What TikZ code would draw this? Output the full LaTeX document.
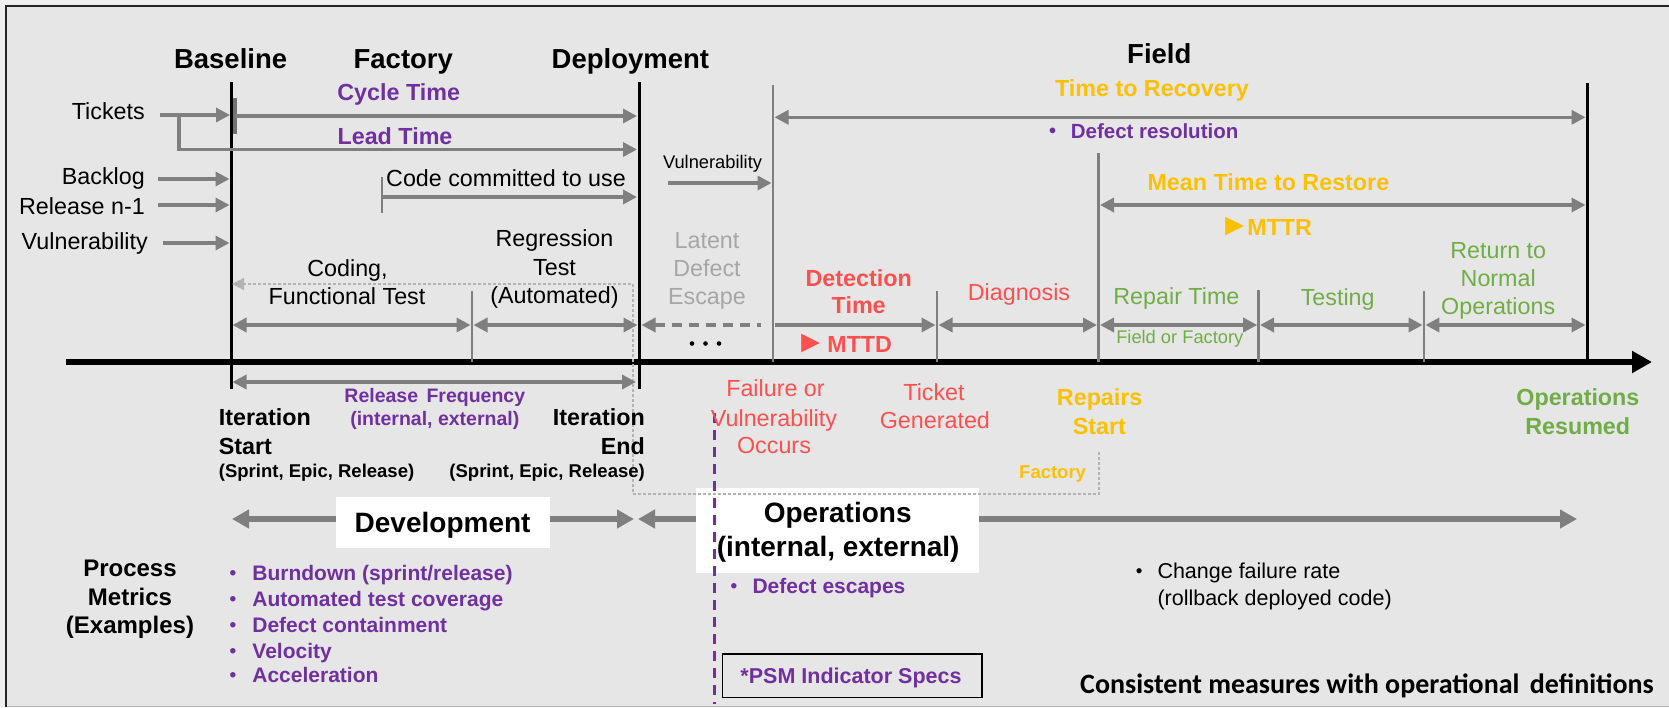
\documentclass[tikz,border=0pt]{standalone}
\usepackage{fontspec}
\usepackage{graphicx}
\setmainfont{Liberation Sans}
\newfontfamily\carl{Carlito}
\usetikzlibrary{arrows.meta}
\definecolor{outbg}{HTML}{EEEEEE}
\definecolor{bg}{HTML}{E6E6E6}
\definecolor{agray}{HTML}{7F7F7F}
\definecolor{ltgray}{HTML}{A6A6A6}
\definecolor{pur}{HTML}{7030A0}
\definecolor{red}{HTML}{FF5050}
\definecolor{yel}{HTML}{FFC000}
\definecolor{grn}{HTML}{70AD47}
\newcommand{\fsz}[1]{\fontsize{#1}{#1}\selectfont}
\newcommand{\ptr}{\scalebox{1.35}{►}}
\begin{document}
\begin{tikzpicture}[x=1pt,y=-1pt,
  txt/.style={inner sep=0pt, anchor=base},
  hdr/.style={txt, font=\bfseries\fsz{27.5}},
  big/.style={txt, font=\bfseries\fsz{28}},
  lab/.style={txt, font=\fsz{23.3}},
  labb/.style={txt, font=\bfseries\fsz{23.3}},
  sml/.style={txt, font=\fsz{18.3}},
  smlb/.style={txt, font=\bfseries\fsz{18.5}},
  bul/.style={txt, font=\bfseries\fsz{21}, text=pur},
  ga/.style={draw=agray, line width=3.4pt, -{Triangle[length=14pt,width=14pt]}},
  gd/.style={draw=agray, line width=3.4pt, {Triangle[length=14pt,width=14pt]}-{Triangle[length=14pt,width=14pt]}},
  gv/.style={draw=agray, line width=2.8pt},
  bv/.style={draw=black, line width=3pt},
  bar/.style={draw=agray, line width=5.5pt, {Triangle[length=17pt,width=18pt]}-{Triangle[length=17pt,width=18pt]}},
  wbox/.style={fill=white, draw=none}
]
\useasboundingbox (0,0) rectangle (1669,707);
% background and frame
\fill[outbg] (0,0) rectangle (1669,707);
\fill[bg] (6,6) rectangle (1669,706);
\draw[gray!60, line width=1pt] (6,706) -- (1669,706);
\draw[black!85, line width=2pt] (6,707) -- (6,6) -- (1669,6);

% bars and white boxes
\draw[bar] (232,519) -- (634,519);
\draw[bar] (638,519) -- (1577,519);
\fill[wbox] (335.7,496.7) rectangle (550,548.3);
\fill[wbox] (696.4,487.7) rectangle (979,573.3);

% main timeline
\draw[line width=5.5pt, -{Triangle[length=20pt,width=21pt]}] (66,362) -- (1652,362);

% black verticals
\draw[bv] (231,82) -- (231,389);
\draw[bv] (639.5,82) -- (639.5,389);
\draw[bv] (1587,83) -- (1587,362);

% gray verticals and ticks
\draw[gv] (773,85) -- (773,362);
\draw[gv] (1098.5,153) -- (1098.5,362);
\draw[gv] (472,291) -- (472,362);
\draw[gv] (937,291) -- (937,362);
\draw[gv] (1258.6,290) -- (1258.6,362);
\draw[gv] (1424,291) -- (1424,362);
\draw[gv] (382,177) -- (382,213);
\draw[draw=agray!90!black, line width=3.4pt] (235,98) -- (235,134);

% dotted light gray loop
\draw[draw=ltgray!85, line width=1.3pt, dash pattern=on 3pt off 2pt, -{Triangle[length=12pt,width=12pt]}]
  (1099,452) -- (1099,494) -- (633,494) -- (633,284) -- (232,284);

% left input arrows
\draw[ga] (160,115) -- (230,115);
\draw[ga] (179,115) -- (179,149.5) -- (637,149.5);
\draw[ga] (235,116) -- (637,116);
\draw[ga] (158,179) -- (229.5,179);
\draw[ga] (158,205) -- (229.5,205);
\draw[ga] (163,243) -- (229.5,243);
\draw[ga] (382,197) -- (637,197);
\draw[ga] (668,183) -- (771.5,183);

% long double arrows
\draw[gd] (774.5,117.3) -- (1585.5,117.3);
\draw[gd] (1100,205) -- (1585.5,205);

% segment arrows on y=325
\draw[gd] (232.5,325) -- (470.5,325);
\draw[gd] (473.5,325) -- (637.5,325);
\draw[draw=agray, line width=3.4pt, dash pattern=on 10pt off 7pt, {Triangle[length=14pt,width=14pt]}-] (641.5,325) -- (761,325);
\draw[ga] (774.5,325) -- (935.5,325);
\draw[gd] (938.5,325) -- (1097,325);
\draw[gd] (1100,325) -- (1257.2,325);
\draw[gd] (1260,325) -- (1422.6,325);
\draw[gd] (1425.4,325) -- (1585.5,325);

% release frequency
\draw[gd] (232.5,382) -- (636,382);

% dots
\foreach \i/\xx in {1/692,2/705.5,3/719} \fill (\xx,343.5) circle (2.3pt) coordinate (dot\i);

% PSM box
\draw[black, line width=1.5pt] (722.5,654) rectangle (982,697.3);

% purple dashed line
\draw[pur, line width=3pt, dash pattern=on 10pt off 7pt] (714.8,413) -- (714.8,704);

% ---------- texts ----------
\node[hdr] (hbase) at (230.6,68.3) {Baseline};
\node[hdr] (hfact) at (403.3,68.3) {Factory};
\node[hdr] (hdep) at (630.4,68.3) {Deployment};
\node[hdr] (hfield) at (1159.3,63.3) {Field};

\node[labb, text=pur] (cyc) at (398.7,100) {Cycle Time};
\node[labb, text=pur] (lead) at (395,144) {Lead Time};

\node[lab, anchor=base east] (tick) at (145,119) {Tickets};
\node[lab, anchor=base east] (back) at (145,184.3) {Backlog};
\node[lab, anchor=base east] (reln) at (145,214.3) {Release n-1};
\node[lab, anchor=base east] (vul) at (148,249.3) {Vulnerability};

\node[lab, anchor=base west] (code) at (386,186.7) {Code committed to use};

\node[lab] (reg1) at (554.5,246.7) {Regression};
\node[lab] (reg2) at (554.5,275) {Test};
\node[lab] (reg3) at (554.5,303.3) {(Automated)};

\node[lab] (cod1) at (347.5,276) {Coding,};
\node[lab] (cod2) at (347,304) {Functional Test};

\node[lab, text=ltgray] (lat1) at (707,248.3) {Latent};
\node[lab, text=ltgray] (lat2) at (707,276) {Defect};
\node[lab, text=ltgray] (lat3) at (707,304) {Escape};

\node[sml] (vul2) at (712.5,168) {Vulnerability};

\node[labb, text=yel] (ttr) at (1152,96.7) {Time to Recovery};
\node[txt, font=\bfseries\fsz{20}, text=pur] (bdr) at (1052.7,137.3) {•};
\node[txt, anchor=base west, font=\bfseries\fsz{20.5}, text=pur] (dres) at (1070.7,138.3) {Defect resolution};

\node[labb, text=yel] (mttrt) at (1268.4,190) {Mean Time to Restore};
\node[labb, text=yel, anchor=base west] (mttr) at (1219,235) {\ptr\hspace{-3pt}MTTR};

\node[labb, text=red] (det1) at (858.7,286) {Detection};
\node[labb, text=red] (det2) at (858.7,313.3) {Time};
\node[labb, text=red, anchor=base west] (mttd) at (795,352.7) {\ptr\hspace{1pt}MTTD};

\node[lab, text=red] (diag) at (1019,300) {Diagnosis};
\node[lab, text=grn] (rep) at (1176.4,304) {Repair Time};
\node[txt, font=\fsz{18.3}, text=grn] (fof) at (1179.8,343.3) {Field or Factory};
\node[lab, text=grn] (test) at (1337.7,305) {Testing};
\node[lab, text=grn] (ret1) at (1498.2,258.3) {Return to};
\node[lab, text=grn] (ret2) at (1498.2,286.7) {Normal};
\node[lab, text=grn] (ret3) at (1498.2,314) {Operations};

\node[txt, font=\bfseries\fsz{19.5}, text=pur] (rf1) at (434.8,402.3) {Release\hspace{3pt} Frequency};
\node[txt, font=\bfseries\fsz{19.5}, text=pur] (rf2) at (434.8,425) {(internal, external)};

\node[labb, anchor=base west] (is1) at (218.7,425.7) {Iteration};
\node[labb, anchor=base west] (is2) at (218.7,454) {Start};
\node[smlb, anchor=base west] (is3) at (218.7,477.3) {(Sprint, Epic, Release)};
\node[labb, anchor=base east] (ie1) at (645,425.7) {Iteration};
\node[labb, anchor=base east] (ie2) at (645,454) {End};
\node[smlb, anchor=base east] (ie3) at (645,477.3) {(Sprint, Epic, Release)};

\node[lab, text=red] (fo1) at (775.5,396.7) {Failure or};
\node[lab, text=red] (fo2) at (774,426) {Vulnerability};
\node[lab, text=red] (fo3) at (774,453.3) {Occurs};
\node[lab, text=red] (tg1) at (934,400) {Ticket};
\node[lab, text=red] (tg2) at (934.9,428.3) {Generated};
\node[labb, text=yel] (rs1) at (1099.7,405) {Repairs};
\node[labb, text=yel] (rs2) at (1099.4,434.3) {Start};
\node[smlb, text=yel] (fac) at (1052.6,478.3) {Factory};
\node[labb, text=grn] (or1) at (1577.9,405) {Operations};
\node[labb, text=grn] (or2) at (1577.7,434.3) {Resumed};

\node[big] (dev) at (442.6,532.7) {Development};
\node[big] (ops1) at (837.7,522.7) {Operations};
\node[big] (ops2) at (838.2,556.7) {(internal, external)};

\node[txt, font=\bfseries\fsz{24}] (pm1) at (130,576.7) {Process};
\node[txt, font=\bfseries\fsz{24}] (pm2) at (130,605) {Metrics};
\node[txt, font=\bfseries\fsz{24}] (pm3) at (130,633.3) {(Examples)};

\foreach \n/\yy/\t in {1/580/{Burndown (sprint/release)},2/606.7/{Automated test coverage},3/632.7/{Defect containment},4/658.3/{Velocity},5/682.7/{Acceleration}}{
  \node[txt, font=\bfseries\fsz{19}, text=pur] (pb\n) at (233,\yy-1) {•};
  \node[bul, anchor=base west] (pt\n) at (252.2,\yy) {\t};
}
\node[txt, font=\bfseries\fsz{19}, text=pur] (deb) at (734,592.3) {•};
\node[bul, anchor=base west] (det) at (752.3,593.3) {Defect escapes};

\node[txt, font=\fsz{19}] (cfb) at (1139.2,577.3) {•};
\node[txt, anchor=base west, font=\fsz{21.5}] (cf1) at (1157.3,578.3) {Change failure rate};
\node[txt, anchor=base west, font=\fsz{21.5}] (cf2) at (1157.3,605) {(rollback deployed code)};

\node[txt, font=\bfseries\fsz{21.5}, text=pur] (psm) at (851,683.3) {*PSM Indicator Specs};
\node[txt, anchor=base west, font=\carl\bfseries\fsz{28}] (cons) at (1080,693.3) {Consistent measures with operational\hspace{4pt} definitions};
\end{tikzpicture}
\end{document}
